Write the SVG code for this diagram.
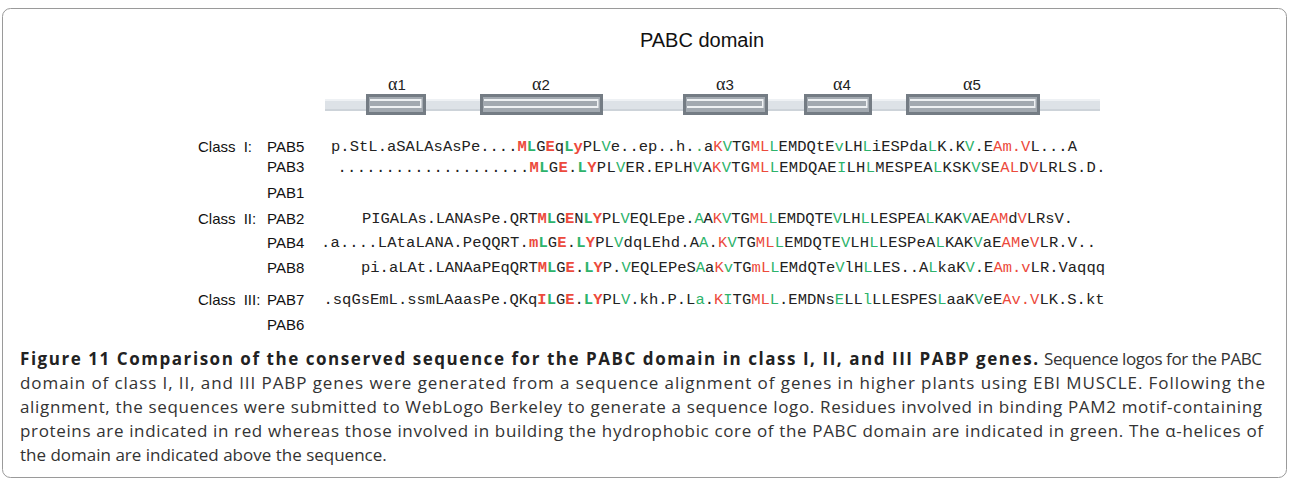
<svg xmlns="http://www.w3.org/2000/svg" width="1290" height="484" viewBox="0 0 1290 484">
  <style>
    .title { font-family: "Liberation Sans", Arial, sans-serif; font-size: 20px; fill: #111; }
    .hlab { font-family: "Liberation Serif", "Times New Roman", serif; font-size: 18px; fill: #222; }
    .hlab tspan.n { font-family: "Liberation Sans", Arial, sans-serif; font-size: 15px; }
    .cls { font-family: "Liberation Sans", Arial, sans-serif; font-size: 15px; fill: #111; word-spacing: 4px; }
    .pab { font-family: "Liberation Sans", Arial, sans-serif; font-size: 15px; fill: #111; }
    .seq { font-family: "Liberation Mono", "Courier New", monospace; font-size: 15.5px; fill: #222; }
    .r { fill: #ec4a3c; }
    .g { fill: #2db36b; }
    .b { font-weight: bold; }
    .cap { font-family: "Open Sans", "Noto Sans", sans-serif; font-size: 17px; fill: #333; }
    .capb { font-family: "Open Sans", "Noto Sans", sans-serif; font-size: 17px; font-weight: bold; fill: #222; }
    .hx-out { fill: #747c84; }
    .hx-in { fill: #a2a9b0; }
    .hx-hi { fill: #eef1f3; }
  </style>

  <!-- frame -->
  <rect x="2.5" y="8.5" width="1284" height="469" rx="8" ry="8" fill="#fff" stroke="#9a9a9a" stroke-width="1"/>

  <text class="title" x="702" y="47" text-anchor="middle">PABC domain</text>

  <!-- secondary structure track -->
  <g id="helix-track">
    <rect x="325" y="99" width="775" height="12" fill="#dde2e7"/>
    <rect x="325" y="99" width="775" height="2" fill="#eef1f4"/>
    <rect x="325" y="109" width="775" height="2" fill="#cdd3d9"/>

    <g id="helix1">
      <rect class="hx-out" x="366" y="94" width="60" height="21"/>
      <rect class="hx-in" x="369" y="97" width="54" height="15"/>
      <rect class="hx-hi" x="370" y="99" width="50" height="2"/>
      <rect class="hx-hi" x="370" y="106" width="50" height="2"/>
      <rect class="hx-hi" x="420" y="99" width="1.5" height="9"/>
      <text class="hlab" x="397" y="90" text-anchor="middle">α<tspan class="n">1</tspan></text>
    </g>
    <g id="helix2">
      <rect class="hx-out" x="480" y="94" width="123" height="21"/>
      <rect class="hx-in" x="483" y="97" width="117" height="15"/>
      <rect class="hx-hi" x="484" y="99" width="113" height="2"/>
      <rect class="hx-hi" x="484" y="106" width="113" height="2"/>
      <rect class="hx-hi" x="597" y="99" width="1.5" height="9"/>
      <text class="hlab" x="541" y="90" text-anchor="middle">α<tspan class="n">2</tspan></text>
    </g>
    <g id="helix3">
      <rect class="hx-out" x="683" y="94" width="85" height="21"/>
      <rect class="hx-in" x="686" y="97" width="79" height="15"/>
      <rect class="hx-hi" x="687" y="99" width="75" height="2"/>
      <rect class="hx-hi" x="687" y="106" width="75" height="2"/>
      <rect class="hx-hi" x="762" y="99" width="1.5" height="9"/>
      <text class="hlab" x="725" y="90" text-anchor="middle">α<tspan class="n">3</tspan></text>
    </g>
    <g id="helix4">
      <rect class="hx-out" x="804" y="94" width="68" height="21"/>
      <rect class="hx-in" x="807" y="97" width="62" height="15"/>
      <rect class="hx-hi" x="808" y="99" width="58" height="2"/>
      <rect class="hx-hi" x="808" y="106" width="58" height="2"/>
      <rect class="hx-hi" x="866" y="99" width="1.5" height="9"/>
      <text class="hlab" x="842" y="90" text-anchor="middle">α<tspan class="n">4</tspan></text>
    </g>
    <g id="helix5">
      <rect class="hx-out" x="906" y="94" width="134" height="21"/>
      <rect class="hx-in" x="909" y="97" width="128" height="15"/>
      <rect class="hx-hi" x="910" y="99" width="124" height="2"/>
      <rect class="hx-hi" x="910" y="106" width="124" height="2"/>
      <rect class="hx-hi" x="1034" y="99" width="1.5" height="9"/>
      <text class="hlab" x="972" y="90" text-anchor="middle">α<tspan class="n">5</tspan></text>
    </g>
  </g>

  <!-- class labels -->
  <g id="class-labels">
    <text class="cls" x="198" y="152">Class I:</text>
    <text class="cls" x="198" y="224">Class II:</text>
    <text class="cls" x="198" y="305">Class III:</text>
  </g>

  <!-- gene labels -->
  <g id="gene-labels">
    <text class="pab" x="267" y="152">PAB5</text>
    <text class="pab" x="267" y="172">PAB3</text>
    <text class="pab" x="267" y="198">PAB1</text>
    <text class="pab" x="267" y="224">PAB2</text>
    <text class="pab" x="267" y="248">PAB4</text>
    <text class="pab" x="267" y="273">PAB8</text>
    <text class="pab" x="267" y="305">PAB7</text>
    <text class="pab" x="267" y="330">PAB6</text>
  </g>

  <!-- aligned sequences -->
  <g id="alignment">
    <text id="seq-PAB5" class="seq" x="331" y="151" textLength="746" lengthAdjust="spacing">p.StL.aSALAsAsPe....<tspan class="r b">M</tspan><tspan class="g b">L</tspan>G<tspan class="r b">E</tspan>q<tspan class="g b">L</tspan><tspan class="r b">y</tspan>PL<tspan class="g">V</tspan>e..ep..h.<tspan class="g">.</tspan>a<tspan class="r">K</tspan><tspan class="g">V</tspan>TG<tspan class="r">ML</tspan><tspan class="g">L</tspan>EMDQtE<tspan class="g">v</tspan>LH<tspan class="g">L</tspan>iESPda<tspan class="g">L</tspan>K.K<tspan class="g">V</tspan>.E<tspan class="r">Am.V</tspan>L...A</text>
    <text id="seq-PAB3" class="seq" x="337.5" y="172" textLength="768" lengthAdjust="spacing">....................<tspan class="r b">M</tspan><tspan class="g b">L</tspan>G<tspan class="r b">E</tspan>.<tspan class="g b">L</tspan><tspan class="r b">Y</tspan>PL<tspan class="g">V</tspan>ER.EPLH<tspan class="g">V</tspan>A<tspan class="r">K</tspan><tspan class="g">V</tspan>TG<tspan class="r">ML</tspan><tspan class="g">L</tspan>EMDQAE<tspan class="g">I</tspan>LH<tspan class="g">L</tspan>MESPEA<tspan class="g">L</tspan>KSK<tspan class="g">V</tspan>SE<tspan class="r">AL</tspan>D<tspan class="r">V</tspan>LRLS.D.</text>
    <text id="seq-PAB2" class="seq" x="362" y="223" textLength="711" lengthAdjust="spacing">PIGALAs.LANAsPe.QRT<tspan class="r b">M</tspan><tspan class="g b">L</tspan>G<tspan class="r b">E</tspan>N<tspan class="g b">L</tspan><tspan class="r b">Y</tspan>PL<tspan class="g">V</tspan>EQLEpe.<tspan class="g">A</tspan>A<tspan class="r">K</tspan><tspan class="g">V</tspan>TG<tspan class="r">ML</tspan><tspan class="g">L</tspan>EMDQTE<tspan class="g">V</tspan>LH<tspan class="g">L</tspan>LESPEA<tspan class="g">L</tspan>KAK<tspan class="g">V</tspan>AE<tspan class="r">AM</tspan>d<tspan class="r">V</tspan>LRsV.</text>
    <text id="seq-PAB4" class="seq" x="321" y="247" textLength="775" lengthAdjust="spacing">.a....LAtaLANA.PeQQRT.<tspan class="r b">m</tspan><tspan class="g b">L</tspan>G<tspan class="r b">E</tspan>.<tspan class="g b">L</tspan><tspan class="r b">Y</tspan>PL<tspan class="g">V</tspan>dqLEhd.A<tspan class="g">A</tspan>.<tspan class="r">K</tspan><tspan class="g">V</tspan>TG<tspan class="r">ML</tspan><tspan class="g">L</tspan>EMDQTE<tspan class="g">V</tspan>LH<tspan class="g">L</tspan>LESPeA<tspan class="g">L</tspan>KAK<tspan class="g">V</tspan>aE<tspan class="r">AM</tspan>e<tspan class="r">V</tspan>LR.V..</text>
    <text id="seq-PAB8" class="seq" x="361" y="272" textLength="744" lengthAdjust="spacing">pi.aLAt.LANAaPEqQRT<tspan class="r b">M</tspan><tspan class="g b">L</tspan>G<tspan class="r b">E</tspan>.<tspan class="g b">L</tspan><tspan class="r b">Y</tspan>P.<tspan class="g">V</tspan>EQLEPeS<tspan class="g">A</tspan>a<tspan class="r">K</tspan><tspan class="g">v</tspan>TG<tspan class="r">mL</tspan><tspan class="g">L</tspan>EMdQTe<tspan class="g">V</tspan>lH<tspan class="g">L</tspan>LES..A<tspan class="g">L</tspan>kaK<tspan class="g">V</tspan>.E<tspan class="r">Am.v</tspan>LR.Vaqqq</text>
    <text id="seq-PAB7" class="seq" x="323.5" y="304" textLength="781" lengthAdjust="spacing">.sqGsEmL.ssmLAaasPe.QKq<tspan class="r b">I</tspan><tspan class="g b">L</tspan>G<tspan class="r b">E</tspan>.<tspan class="g b">L</tspan><tspan class="r b">Y</tspan>PL<tspan class="g">V</tspan>.kh.P.L<tspan class="g">a</tspan>.<tspan class="r">K</tspan><tspan class="g">I</tspan>TG<tspan class="r">ML</tspan><tspan class="g">L</tspan>.EMDNs<tspan class="g">E</tspan>LL<tspan class="g">l</tspan>LLESPES<tspan class="g">L</tspan>aaK<tspan class="g">V</tspan>eE<tspan class="r">Av.V</tspan>LK.S.kt</text>
  </g>

  <!-- figure caption -->
  <g id="caption">
    <text class="capb" x="20" y="365" textLength="1018" lengthAdjust="spacing">Figure 11 Comparison of the conserved sequence for the PABC domain in class I, II, and III PABP genes.</text>
    <text class="cap" x="1044" y="365" textLength="218" lengthAdjust="spacing">Sequence logos for the PABC</text>
    <text class="cap" x="20" y="389" textLength="1245" lengthAdjust="spacing">domain of class I, II, and III PABP genes were generated from a sequence alignment of genes in higher plants using EBI MUSCLE. Following the</text>
    <text class="cap" x="20" y="413" textLength="1242" lengthAdjust="spacing">alignment, the sequences were submitted to WebLogo Berkeley to generate a sequence logo. Residues involved in binding PAM2 motif-containing</text>
    <text class="cap" x="20" y="437" textLength="1243" lengthAdjust="spacing">proteins are indicated in red whereas those involved in building the hydrophobic core of the PABC domain are indicated in green. The α-helices of</text>
    <text class="cap" x="20" y="461">the domain are indicated above the sequence.</text>
  </g>
</svg>
